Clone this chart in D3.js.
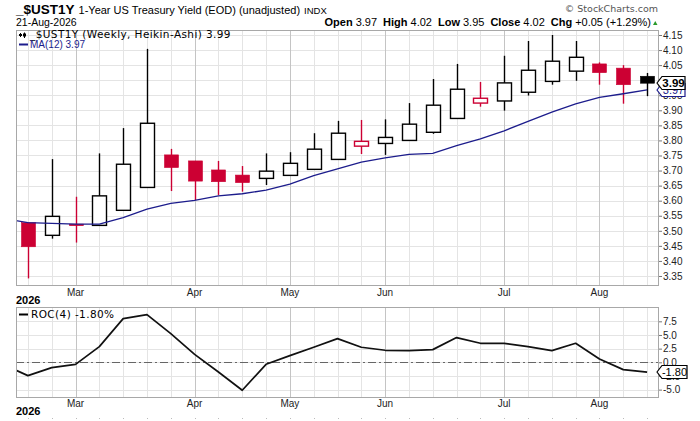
<!DOCTYPE html>
<html>
<head>
<meta charset="utf-8">
<script src="https://cdn.jsdelivr.net/npm/d3@7"></script>
<style>
  body { margin: 0; background: #fff; }
  text { font-family: "Liberation Sans", Arial, sans-serif; }
  .leg { font-family: "DejaVu Sans", Verdana, sans-serif; }
</style>
</head>
<body>
<svg id="chart" width="700" height="421"></svg>
<script>
// weekly Heikin-Ashi candles, week starting date
let weeks = ["2026-02-16", "2026-02-23", "2026-03-02", "2026-03-09", "2026-03-16", "2026-03-23",
    "2026-03-30", "2026-04-06", "2026-04-13", "2026-04-20", "2026-04-27", "2026-05-04",
    "2026-05-11", "2026-05-18", "2026-05-25", "2026-06-01", "2026-06-08", "2026-06-15",
    "2026-06-22", "2026-06-29", "2026-07-06", "2026-07-13", "2026-07-20", "2026-07-27",
    "2026-08-03", "2026-08-10", "2026-08-17"];

let haOpen = [3.527, 3.485, 3.522, 3.518, 3.568, 3.644, 3.752, 3.732, 3.702, 3.685, 3.674, 3.684,
    3.704, 3.737, 3.781, 3.790, 3.800, 3.827, 3.873, 3.924, 3.931, 3.960, 3.996, 4.030,
    4.054, 4.040, 4.013];
let haHigh = [3.527, 3.738, 3.613, 3.757, 3.841, 4.104, 3.772, 3.732, 3.732, 3.715, 3.757, 3.761,
    3.824, 3.865, 3.868, 3.870, 3.924, 4.004, 4.054, 3.994, 4.081, 4.130, 4.150, 4.130,
    4.059, 4.050, 4.024];
let haLow = [3.342, 3.474, 3.461, 3.518, 3.568, 3.644, 3.632, 3.602, 3.619, 3.630, 3.652, 3.684,
    3.704, 3.737, 3.755, 3.752, 3.800, 3.822, 3.873, 3.912, 3.899, 3.949, 3.985, 3.998,
    3.985, 3.922, 3.947];
let haClose = [3.447, 3.548, 3.517, 3.616, 3.721, 3.857, 3.710, 3.665, 3.663, 3.660, 3.698, 3.724,
    3.771, 3.824, 3.797, 3.810, 3.854, 3.917, 3.970, 3.940, 3.991, 4.033, 4.063, 4.076,
    4.025, 3.985, 3.990];

// first value belongs to the week before the chart (2026-02-09), clipped off on the left
let ma12 = [3.540, 3.527, 3.525, 3.522, 3.522, 3.544, 3.572, 3.591, 3.601, 3.616, 3.623, 3.635,
    3.655, 3.683, 3.706, 3.728, 3.742, 3.754, 3.757, 3.783, 3.805, 3.832, 3.863, 3.894,
    3.921, 3.943, 3.955, 3.968];
let roc4 = [-0.48, -2.44, -0.98, -0.37, 2.87, 8.0, 8.72, 5.25, 1.46, -1.77, -5.12, -0.37,
    1.22, 2.75, 4.33, 2.75, 2.2, 2.14, 2.32, 4.52, 3.48, 3.48, 2.87, 2.14,
    3.48, 0.6, -1.34, -1.80];

let priceTicks = d3.range(3.35, 4.151, 0.05);
let rocTicks = [-5, -2.5, 0, 2.5, 5, 7.5];

let red = "#cc0033";
let navy = "#1c1c8c";
let gridC = "#e4e4e4";
let monthC = "#c4c4c4";
let frameC = "#a8a8a8";

let svg = d3.select("#chart");
let left = 16, right = 659;
let pTop = 30, pBot = 285;
let rTop = 307, rBot = 397;

let parse = d3.timeParse("%Y-%m-%d");
let dates = weeks.map(parse);

let x = d3.scaleLinear().domain([-0.5, weeks.length - 0.5]).range([left, right]);
let step = x(1) - x(0);
let bodyW = Math.round(step * 0.57);

let y = d3.scaleLinear().domain([3.3201, 4.1666]).range([pBot, pTop]);
let yr = d3.scaleLinear().domain([-6.35, 10.12]).range([rBot, rTop]);

// month start = first week whose month differs from the week before it
let monthIdx = [];
dates.forEach(function (d, i) {
    let prev = i == 0 ? d3.timeWeek.offset(d, -1) : dates[i - 1];
    if (d.getMonth() != prev.getMonth()) monthIdx.push(i);
});

svg.append("rect").attr("width", 700).attr("height", 421).attr("fill", "#fff");

let defs = svg.append("defs");
defs.append("clipPath").attr("id", "clipP")
    .append("rect").attr("x", left).attr("y", pTop).attr("width", right - left).attr("height", pBot - pTop);
defs.append("clipPath").attr("id", "clipR")
    .append("rect").attr("x", left).attr("y", rTop).attr("width", right - left).attr("height", rBot - rTop);

// ---------- header ----------
let head = svg.append("text").attr("x", 16).attr("y", 14);
head.append("tspan").attr("font-weight", "bold").attr("font-size", 13.5).text("_$UST1Y");
head.append("tspan").attr("font-size", 11).attr("dx", 4).text("1-Year US Treasury Yield (EOD) (unadjusted)");
head.append("tspan").attr("font-size", 9.5).attr("dx", 4).text("INDX");

svg.append("text").attr("x", 16).attr("y", 26).attr("font-size", 10.5).text("21-Aug-2026");

svg.append("text").attr("x", 658).attr("y", 12).attr("text-anchor", "end")
    .attr("font-size", 9.5).attr("fill", "#555").attr("class", "leg").text("\u00a9 StockCharts.com");

let ohlc = svg.append("text").attr("x", 651).attr("y", 26).attr("text-anchor", "end").attr("font-size", 11);
[["Open", "3.97"], ["High", "4.02"], ["Low", "3.95"], ["Close", "4.02"], ["Chg", "+0.05 (+1.29%)"]]
    .forEach(function (p, i) {
        ohlc.append("tspan").attr("font-weight", "bold").attr("dx", i == 0 ? 0 : 6).text(p[0]);
        ohlc.append("tspan").attr("dx", 3).text(p[1]);
    });
svg.append("path").attr("d", "M653,25 L657.5,25 L655.25,21 Z").attr("fill", "#2a9a2a");

// ---------- panel grids ----------
function panelGrid(g, yScale, ticks, top, bot) {
    g.selectAll("line.h").data(ticks).join("line")
        .attr("x1", left).attr("x2", right)
        .attr("y1", d => Math.round(yScale(d)) + 0.5).attr("y2", d => Math.round(yScale(d)) + 0.5)
        .attr("stroke", gridC);
    g.selectAll("line.v").data(weeks.map((w, i) => i)).join("line")
        .attr("x1", d => Math.round(x(d)) + 0.5).attr("x2", d => Math.round(x(d)) + 0.5)
        .attr("y1", top).attr("y2", bot)
        .attr("stroke", d => monthIdx.includes(d) ? monthC : gridC);
}

let gP = svg.append("g");
panelGrid(gP, y, priceTicks, pTop, pBot);
let gR = svg.append("g");
panelGrid(gR, yr, rocTicks, rTop, rBot);

// ---------- price candles ----------
let candles = svg.append("g").attr("clip-path", "url(#clipP)");
weeks.forEach(function (w, i) {
    let o = haOpen[i], c = haClose[i];
    let up = i == 0 ? false : c > haClose[i - 1];
    let col = up ? "#000" : red;
    let filled = c < o;
    let cx = Math.round(x(i)) + 0.5;
    candles.append("line")
        .attr("x1", cx).attr("x2", cx)
        .attr("y1", y(haHigh[i])).attr("y2", y(haLow[i]))
        .attr("stroke", col).attr("stroke-width", 1.4);
    let top = y(Math.max(o, c)), bot = y(Math.min(o, c));
    candles.append("rect")
        .attr("x", cx - bodyW / 2).attr("width", bodyW)
        .attr("y", top).attr("height", Math.max(bot - top, 1.5))
        .attr("fill", filled ? col : "#fff")
        .attr("stroke", col).attr("stroke-width", filled ? 0.6 : 1.4);
});

// moving average
let maLine = d3.line().x((d, i) => x(i - 1)).y(d => y(d));
svg.append("path").attr("clip-path", "url(#clipP)")
    .attr("d", maLine(ma12)).attr("fill", "none")
    .attr("stroke", navy).attr("stroke-width", 1.3);

// ---------- roc ----------
svg.append("line").attr("x1", left).attr("x2", right)
    .attr("y1", Math.round(yr(0)) + 0.5).attr("y2", Math.round(yr(0)) + 0.5)
    .attr("stroke", "#666").attr("stroke-dasharray", "8,3,2,3");
let rocLine = d3.line().x((d, i) => x(i - 1)).y(d => yr(d));
svg.append("path").attr("clip-path", "url(#clipR)")
    .attr("d", rocLine(roc4)).attr("fill", "none")
    .attr("stroke", "#111").attr("stroke-width", 1.7).attr("stroke-linejoin", "round");

// frames
[[pTop, pBot], [rTop, rBot]].forEach(function (p) {
    svg.append("rect").attr("x", left + 0.5).attr("y", p[0] + 0.5)
        .attr("width", right - left - 1).attr("height", p[1] - p[0])
        .attr("fill", "none").attr("stroke", frameC);
});

// ---------- axes ----------
let fmt2 = v => d3.format(".2f")(v).replace("\u2212", "-");
let fmt1 = v => d3.format(".1f")(v).replace("\u2212", "-");

let axP = svg.append("g").attr("transform", "translate(" + right + ",0)")
    .call(d3.axisRight(y).tickValues(priceTicks).tickFormat(fmt2).tickSize(3).tickPadding(1));
let axR = svg.append("g").attr("transform", "translate(" + right + ",0)")
    .call(d3.axisRight(yr).tickValues(rocTicks).tickFormat(fmt1).tickSize(3).tickPadding(1));
[axP, axR].forEach(function (a) {
    a.select(".domain").remove();
    a.selectAll("line").attr("stroke", "#777");
    a.selectAll("text").attr("font-size", 10).attr("fill", "#222")
        .attr("font-family", "Liberation Sans, Arial, sans-serif");
});

function monthLabels(yy, yearY) {
    svg.append("g").selectAll("text").data(monthIdx).join("text")
        .attr("x", d => x(d)).attr("y", yy).attr("text-anchor", "middle")
        .attr("font-size", 10).attr("fill", "#222")
        .text(d => d3.timeFormat("%b")(dates[d]));
    svg.append("text").attr("x", 16).attr("y", yearY).attr("font-size", 11)
        .attr("font-weight", "bold").text(d3.timeFormat("%Y")(dates[0]));
}
monthLabels(296, 304);
monthLabels(407, 415);

// start of the next (cut-off) panel
svg.append("g").selectAll("rect").data(weeks.map((w, i) => i)).join("rect")
    .attr("x", d => Math.round(x(d))).attr("y", 418).attr("width", 1).attr("height", 1)
    .attr("fill", "#bbb");

// ---------- legends ----------
let icon = svg.append("g");
[[20.5, 33, 37, 34, 36, "#000"], [24.5, 32.5, 38, 33.5, 36.5, "#000"]].forEach(function (c) {
    icon.append("line").attr("x1", c[0]).attr("x2", c[0]).attr("y1", c[1]).attr("y2", c[2]).attr("stroke", c[5]);
    icon.append("rect").attr("x", c[0] - 1.5).attr("y", c[3]).attr("width", 3).attr("height", c[4] - c[3])
        .attr("fill", c[5]);
});
svg.append("text").attr("class", "leg").attr("x", 30).attr("y", 38)
    .attr("font-size", 10.5).attr("letter-spacing", 0.4)
    .text("_$UST1Y (Weekly, Heikin-Ashi) " + fmt2(haClose[haClose.length - 1]));

svg.append("line").attr("x1", 19).attr("x2", 28).attr("y1", 44.5).attr("y2", 44.5)
    .attr("stroke", navy).attr("stroke-width", 2);
svg.append("text").attr("x", 30).attr("y", 48).attr("font-size", 10).attr("fill", navy)
    .text("MA(12) " + fmt2(ma12[ma12.length - 1]));

svg.append("line").attr("x1", 19).attr("x2", 28).attr("y1", 314.5).attr("y2", 314.5)
    .attr("stroke", "#000").attr("stroke-width", 2);
svg.append("text").attr("class", "leg").attr("x", 31).attr("y", 318)
    .attr("font-size", 10.5).attr("letter-spacing", 0.4)
    .text("ROC(4) " + fmt2(roc4[roc4.length - 1]) + "%");

// ---------- value tags ----------
function tag(yy, txt, col, bold, w) {
    let g = svg.append("g").attr("transform", "translate(657," + Math.round(yy) + ")");
    g.append("path")
        .attr("d", "M0,0 L5,-6.5 L" + w + ",-6.5 L" + w + ",6.5 L5,6.5 Z")
        .attr("fill", "#fff").attr("stroke", col).attr("stroke-width", 1.2);
    g.append("text").attr("x", (w + 5) / 2).attr("y", 4).attr("text-anchor", "middle")
        .attr("font-size", bold ? 11.5 : 11).attr("font-weight", bold ? "bold" : "normal")
        .attr("fill", col).text(txt);
}
let lastMa = ma12[ma12.length - 1];
let lastC = haClose[haClose.length - 1];
let lastR = roc4[roc4.length - 1];
tag(y(lastMa), fmt2(lastMa), navy, false, 28);
tag(y(lastC), fmt2(lastC), "#000", true, 28);
tag(yr(lastR), fmt2(lastR), "#000", false, 30);
</script>
</body>
</html>
